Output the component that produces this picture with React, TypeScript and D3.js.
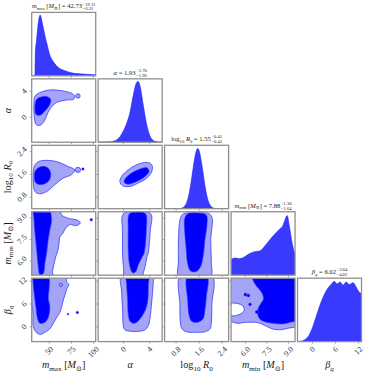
import React, { useEffect, useRef } from 'react';
import * as d3 from 'd3';

// ---------- parameters ----------
const paramRanges: [number, number][] = [[30, 102.5], [-3.85, 5.9], [0.4, 2.62], [5.0, 9.45], [-3.9, 12.8]];
const paramTicks = [[50, 75, 100], [0, 4], [0.8, 1.6, 2.4], [6.0, 7.5, 9.0], [0, 6, 12]];
const paramTickLabels = [['50', '75', '100'], ['0', '4'], ['0.8', '1.6', '2.4'], ['6.0', '7.5', '9.0'], ['0', '6', '12']];
const medians = ['42.73', '1.93', '1.55', '7.88', '6.02'];
const errPlus = ['+19.11', '+1.70', '+0.41', '+1.30', '+3.04'];
const errMinus = ['−6.31', '−1.96', '−0.43', '−1.64', '−4.02'];

type Seg = { t: string; it?: boolean; sub?: boolean };
const labelSegs: Seg[][] = [
  [{ t: 'm', it: true }, { t: 'max', sub: true }, { t: ' [' }, { t: 'M', it: true }, { t: '⊙', sub: true }, { t: ']' }],
  [{ t: 'α', it: true }],
  [{ t: 'log' }, { t: '10', sub: true }, { t: ' ' }, { t: 'R', it: true }, { t: '0', sub: true }],
  [{ t: 'm', it: true }, { t: 'min', sub: true }, { t: ' [' }, { t: 'M', it: true }, { t: '⊙', sub: true }, { t: ']' }],
  [{ t: 'β', it: true }, { t: 'q', it: true, sub: true }],
];

// ---------- 1D marginal histograms (normalised density) ----------
const mmaxHistX = [30, 33.8, 34.1, 35.5, 37, 38.5, 39.5, 40.5, 42, 43.7, 45.5, 47.3, 50.2, 55.2, 60.2, 67.4, 77.5, 91.2, 102.5];
const mmaxHistY = [0, 0, 0.36, 0.56, 0.78, 0.92, 0.96, 0.93, 0.83, 0.72, 0.6, 0.5, 0.34, 0.21, 0.13, 0.08, 0.04, 0.025, 0.015];
const alphaHistX = [-3.85, -2, -1.5, -1, -0.5, 0, 0.5, 1, 1.5, 2, 2.25, 2.5, 3, 3.5, 4, 4.5, 5, 5.9];
const alphaHistY = [0, 0.005, 0.015, 0.04, 0.09, 0.18, 0.3, 0.47, 0.74, 0.94, 0.96, 0.9, 0.6, 0.3, 0.11, 0.03, 0.008, 0];
const logR0HistX = [0.4, 0.9, 1.0, 1.1, 1.2, 1.3, 1.4, 1.5, 1.55, 1.6, 1.7, 1.8, 1.9, 2.0, 2.1, 2.2, 2.62];
const logR0HistY = [0, 0.001, 0.009, 0.042, 0.143, 0.36, 0.67, 0.91, 0.95, 0.91, 0.67, 0.36, 0.143, 0.042, 0.009, 0.001, 0];
const mminHistX = [5.0, 5.25, 5.6, 5.95, 6.3, 6.65, 7.0, 7.35, 7.7, 8.05, 8.4, 8.6, 8.75, 8.9, 9.05, 9.25, 9.45];
const mminHistY = [0.24, 0.27, 0.26, 0.29, 0.34, 0.37, 0.38, 0.46, 0.56, 0.65, 0.73, 0.78, 0.87, 0.94, 0.78, 0.5, 0.32];
const betaqHistX = [-3.9, -3, -2, -1, 0, 1, 2, 3, 4, 5, 5.7, 6.4, 7.2, 8.0, 8.8, 9.6, 10.6, 11.5, 12.2, 12.8];
const betaqHistY = [0, 0.005, 0.03, 0.09, 0.22, 0.4, 0.58, 0.73, 0.84, 0.91, 0.95, 0.91, 0.94, 0.89, 0.94, 0.9, 0.93, 0.85, 0.78, 0.76];

const histX = [mmaxHistX, alphaHistX, logR0HistX, mminHistX, betaqHistX];
const histY = [mmaxHistY, alphaHistY, logR0HistY, mminHistY, betaqHistY];

// ---------- 2D credible contours (data units, [x, y]) ----------
const alphaMmaxOuter = [[33.7, 3.22], [39.3, 3.79], [50.6, 4.19], [65.5, 4.04], [75, 3.69], [78.7, 3.27], [77.6, 2.76], [69.4, 2.65], [58.1, 2.25], [50.6, 1.22], [43, -0.84], [39.3, -1.25], [34.8, -1.1], [32.9, 0.18], [32.6, 2.25]];
const alphaMmaxInner = [[35.6, 2.76], [40.5, 3.1], [46.9, 3.18], [51.4, 2.76], [50.6, 1.99], [45, 0.95], [39.3, 0.29], [34.8, 0.44], [33.7, 1.73]];
const logR0MmaxOuter = [[32.9, 1.88], [36, 2.02], [43, 2.09], [58.1, 2.05], [71.2, 1.88], [78.7, 1.76], [75, 1.59], [65.5, 1.47], [56.2, 1.24], [46.9, 1.0], [38.5, 0.92], [33.7, 1.0], [31.8, 1.3], [31.8, 1.65]];
const logR0MmaxInner = [[34.8, 1.76], [41.2, 1.88], [48.7, 1.82], [51.7, 1.59], [48.7, 1.35], [41.2, 1.24], [34.8, 1.3], [32.9, 1.53]];
const mminMmaxOuter = [[31.5, 9.7], [61.8, 9.7], [63.7, 9.24], [71.2, 9.0], [82.4, 8.84], [85.1, 8.66], [79.8, 8.47], [73.9, 8.56], [68.6, 8.31], [65.5, 7.96], [61.8, 7.68], [61, 7.25], [59.9, 6.78], [57.3, 6.31], [55.1, 5.73], [53.6, 5.26], [53.5, 4.8], [31.5, 4.8]];
const mminMmaxInner = [[32.6, 9.7], [49, 9.7], [52.5, 8.89], [50.6, 8.19], [48.7, 7.49], [46.9, 6.55], [45, 5.85], [43, 5.1], [39.3, 5.03], [37.4, 5.6], [35.6, 6.78], [33.7, 7.96], [32.6, 8.89]];
const betaqMmaxOuter = [[31.5, 13.4], [69.4, 13.4], [69.4, 11.96], [72, 11.1], [70, 10.07], [67.8, 8.52], [65.5, 6.79], [63.7, 5.05], [61.8, 3.76], [58.8, 2.65], [55.1, 1.17], [50.6, -0.54], [45, -1.42], [40.1, -2.01], [35.6, -1.57], [31.8, 0.06], [31.5, 3]];
const betaqMmaxInner = [[32, 13.4], [48.7, 13.4], [49.8, 10.23], [48.7, 7.64], [50.6, 5.05], [48.7, 2.46], [45, 1.17], [39.3, 0.91], [36.7, 2.05], [34.8, 5.05], [32.9, 8.52], [31.8, 11.1]];
const logR0AlphaOuter = [[-0.28, 1.53], [0.73, 1.76], [2.02, 1.94], [3.55, 2.02], [4.32, 1.94], [4.32, 1.7], [3.55, 1.47], [2.26, 1.3], [1.0, 1.18], [-0.12, 1.2], [-0.54, 1.35]];
const logR0AlphaInner = [[0.23, 1.44], [1.25, 1.65], [2.52, 1.79], [3.55, 1.84], [3.9, 1.7], [3.29, 1.53], [2.02, 1.35], [0.73, 1.26], [0.12, 1.32]];
const mminAlphaOuter = [[-0.2, 9.1], [0.2, 9.4], [2.0, 9.44], [3.8, 9.42], [4.3, 9.2], [4.1, 8.18], [3.8, 6.6], [3.55, 6.2], [3.3, 5.6], [3.0, 5.1], [2.9, 4.8], [0.1, 4.8], [0.05, 5.3], [-0.12, 6.3], [-0.15, 8.2]];
const mminAlphaInner = [[0.8, 9.2], [1.2, 9.4], [3.0, 9.42], [3.45, 9.25], [3.5, 8.2], [3.14, 6.53], [2.78, 6.2], [2.26, 5.71], [1.9, 5.25], [1.5, 5.15], [1.2, 5.3], [0.89, 5.83], [0.73, 6.77], [0.73, 8.18]];
const betaqAlphaOuter = [[-0.28, 13.4], [4.56, 13.4], [4.56, 11.96], [4.32, 6.79], [4.06, 2.46], [3.8, 0.32], [3.29, -0.8], [2.52, -1.16], [1.0, -1.16], [0.23, -0.8], [-0.03, 0.32], [-0.12, 4.2], [-0.28, 9.37]];
const betaqAlphaInner = [[0.49, 13.4], [3.8, 13.4], [3.8, 11.1], [3.7, 6.79], [3.29, 4.2], [2.52, 2.05], [2.02, 1.17], [1.5, 0.91], [1.0, 1.43], [0.73, 3.34], [0.64, 6.79], [0.49, 11.1]];
const mminLogR0Outer = [[0.95, 9.0], [1.05, 9.3], [1.5, 9.38], [1.95, 9.3], [2.05, 9.0], [2.0, 7.5], [2.02, 6.0], [1.98, 4.8], [0.9, 4.8], [0.88, 6.0], [0.88, 7.5]];
const mminLogR0Inner = [[1.1, 9.0], [1.2, 9.3], [1.6, 9.36], [1.85, 9.2], [1.87, 8.5], [1.8, 7.5], [1.75, 6.5], [1.65, 5.6], [1.5, 5.25], [1.3, 5.3], [1.2, 5.8], [1.15, 6.8], [1.1, 8.0]];
const betaqLogR0Outer = [[0.95, 13.4], [2.05, 13.4], [2.04, 6], [2.02, 1.0], [1.98, -0.5], [1.8, -1.3], [1.5, -1.45], [1.15, -1.3], [1.0, -0.5], [0.95, 1.0], [0.93, 6]];
const betaqLogR0Inner = [[1.2, 13.4], [1.87, 13.4], [1.85, 8], [1.8, 4.5], [1.74, 2.2], [1.6, 1.3], [1.45, 1.15], [1.33, 1.5], [1.25, 3.0], [1.2, 7]];
const betaqMminOuter = [[4.9, 13.4], [9.6, 13.4], [9.6, -0.12], [9.45, -0.12], [8.96, -0.38], [8.41, -0.8], [7.85, -0.54], [7.36, 0.32], [6.88, 1.09], [5.97, 1.17], [5.49, 0.91], [5.0, 1.35], [4.9, 1.35], [4.9, 2.78], [5.28, 2.9], [5.63, 3.34], [5.9, 4.2], [5.83, 5.49], [5.49, 6.09], [5.0, 6.27], [4.9, 6.27]];
const betaqMminInner = [[6.5, 13.4], [9.6, 13.4], [9.6, 1.8], [9.1, 1.17], [8.64, 0.76], [7.94, 0.91], [7.16, 1.61], [6.9, 2.65], [6.88, 4.72], [7.05, 6.01], [7.25, 7.3], [7.16, 8.86], [6.88, 10.23], [6.6, 11.7]];

// small isolated contour islands: [row, col, x, y]
const lightIslands = [[1, 0, 82.4, 3.27], [2, 0, 82.4, 1.76], [4, 0, 63, 11.0]];
const darkIslands = [[2, 0, 88, 1.79], [3, 0, 97.5, 8.89], [4, 0, 71.2, 3.34], [4, 0, 81.7, 3.76], [4, 3, 6.0, 8.5], [4, 3, 6.2, 8.25], [4, 3, 6.32, 5.9], [4, 3, 6.8, 3.9]];
const islandSizes = [2.2, 2.6, 1.6];
const dotSizes = [1.2, 1.3, 0.9, 1.2, 1.6, 1.5, 1.4, 1.7];

// ---------- layout ----------
const PL = 31.7, PT = 12.4, STEP = 66.45, PW = 64, PH = 63.4;
const FONT = "'Liberation Serif', 'DejaVu Serif', serif";
const LIGHT = '#a3a3f8';
const DARK = '#0000ff';
const EDGE = '#3a3aff';
const HIST = '#3a3aff';
const SPINE = '#8f8f8f';

export default function App() {
  const ref = useRef<SVGSVGElement>(null);

  useEffect(() => {
    const svg = d3.select(ref.current as SVGSVGElement);
    svg.selectAll('*').remove();
    const n = 5;
    const colX = (i: number) => PL + i * STEP;
    const rowY = (j: number) => PT + j * STEP;
    const xs = paramRanges.map((r, i) => d3.scaleLinear().domain(r).range([colX(i), colX(i) + PW]));
    const ys = paramRanges.map((r, j) => d3.scaleLinear().domain(r).range([rowY(j) + PH, rowY(j)]));

    const defs = svg.append('defs');
    for (let j = 0; j < n; j++) for (let i = 0; i <= j; i++) {
      defs.append('clipPath').attr('id', `clip-${j}-${i}`).append('rect')
        .attr('x', colX(i)).attr('y', rowY(j)).attr('width', PW).attr('height', PH);
    }

    const richText = (parent: any, segs: Seg[], fs: number) => {
      const text = parent.append('text').attr('font-family', FONT).attr('font-size', fs).attr('fill', '#1a1a1a');
      let shifted = false;
      segs.forEach((s) => {
        const ts = text.append('tspan').text(s.t).attr('font-style', s.it ? 'italic' : 'normal');
        if (s.sub) {
          ts.attr('font-size', fs * 0.7);
          if (!shifted) { ts.attr('dy', fs * 0.25); shifted = true; }
        } else if (shifted) {
          ts.attr('dy', -fs * 0.25); shifted = false;
        }
      });
      return text;
    };

    // ---- diagonal histograms ----
    for (let i = 0; i < n; i++) {
      const hy = d3.scaleLinear().domain([0, 1]).range([rowY(i) + PH, rowY(i)]);
      const pts = histX[i].map((x, k) => [x, histY[i][k]] as [number, number]);
      const area = d3.area<[number, number]>()
        .x((d) => xs[i](d[0])).y0(rowY(i) + PH).y1((d) => hy(d[1])).curve(d3.curveMonotoneX);
      svg.append('g').attr('clip-path', `url(#clip-${i}-${i})`)
        .append('path').attr('d', area(pts) as string)
        .attr('fill', HIST).attr('stroke', '#1f1fff').attr('stroke-width', 0.6);
    }

    // ---- 2D contours ----
    const contourTable = [
      { row: 1, col: 0, outer: alphaMmaxOuter, inner: alphaMmaxInner },
      { row: 2, col: 0, outer: logR0MmaxOuter, inner: logR0MmaxInner },
      { row: 3, col: 0, outer: mminMmaxOuter, inner: mminMmaxInner },
      { row: 4, col: 0, outer: betaqMmaxOuter, inner: betaqMmaxInner },
      { row: 2, col: 1, outer: logR0AlphaOuter, inner: logR0AlphaInner },
      { row: 3, col: 1, outer: mminAlphaOuter, inner: mminAlphaInner },
      { row: 4, col: 1, outer: betaqAlphaOuter, inner: betaqAlphaInner },
      { row: 3, col: 2, outer: mminLogR0Outer, inner: mminLogR0Inner },
      { row: 4, col: 2, outer: betaqLogR0Outer, inner: betaqLogR0Inner },
      { row: 4, col: 3, outer: betaqMminOuter, inner: betaqMminInner },
    ];
    contourTable.forEach(({ row, col, outer, inner }) => {
      const line = d3.line<number[]>().x((d) => xs[col](d[0])).y((d) => ys[row](d[1]))
        .curve(d3.curveCatmullRomClosed.alpha(0.5));
      const g = svg.append('g').attr('clip-path', `url(#clip-${row}-${col})`);
      g.append('path').attr('d', line(outer) as string).attr('fill', LIGHT).attr('stroke', EDGE).attr('stroke-width', 0.8);
      lightIslands.forEach((d, k) => {
        if (d[0] === row && d[1] === col) {
          g.append('circle').attr('cx', xs[col](d[2])).attr('cy', ys[row](d[3])).attr('r', islandSizes[k])
            .attr('fill', LIGHT).attr('stroke', EDGE).attr('stroke-width', 0.8);
        }
      });
      g.append('path').attr('d', line(inner) as string).attr('fill', DARK).attr('stroke', EDGE).attr('stroke-width', 0.6);
      darkIslands.forEach((d, k) => {
        if (d[0] === row && d[1] === col) {
          g.append('circle').attr('cx', xs[col](d[2])).attr('cy', ys[row](d[3])).attr('r', dotSizes[k])
            .attr('fill', DARK).attr('stroke', EDGE).attr('stroke-width', 0.5);
        }
      });
    });

    // ---- frames and ticks ----
    for (let j = 0; j < n; j++) for (let i = 0; i <= j; i++) {
      const x0 = colX(i), y0 = rowY(j);
      svg.append('rect').attr('x', x0).attr('y', y0).attr('width', PW).attr('height', PH)
        .attr('fill', 'none').attr('stroke', SPINE).attr('stroke-width', 1.3);
      paramTicks[i].forEach((v) => {
        const x = xs[i](v);
        svg.append('line').attr('x1', x).attr('x2', x).attr('y1', y0 + PH).attr('y2', y0 + PH + 2)
          .attr('stroke', SPINE).attr('stroke-width', 0.8);
      });
      if (i !== j) {
        paramTicks[j].forEach((v) => {
          const y = ys[j](v);
          svg.append('line').attr('x1', x0 - 2).attr('x2', x0).attr('y1', y).attr('y2', y)
            .attr('stroke', SPINE).attr('stroke-width', 0.8);
        });
      }
    }

    // ---- tick labels ----
    const tfs = 8;
    const bottom = rowY(4) + PH;
    for (let i = 0; i < n; i++) {
      paramTicks[i].forEach((v, k) => {
        const t = svg.append('text').attr('font-family', FONT).attr('font-size', tfs).attr('fill', '#333')
          .attr('text-anchor', 'middle').attr('dominant-baseline', 'central').text(paramTickLabels[i][k]);
        const w = (t.node() as SVGTextElement).getComputedTextLength();
        const b = (w + tfs * 0.72) / Math.SQRT2;
        t.attr('transform', `translate(${xs[i](v)},${bottom + 4.2 + b / 2}) rotate(-45)`);
      });
    }
    for (let j = 1; j < n; j++) {
      paramTicks[j].forEach((v, k) => {
        const t = svg.append('text').attr('font-family', FONT).attr('font-size', tfs).attr('fill', '#333')
          .attr('text-anchor', 'middle').attr('dominant-baseline', 'central').text(paramTickLabels[j][k]);
        const w = (t.node() as SVGTextElement).getComputedTextLength();
        const b = (w + tfs * 0.72) / Math.SQRT2;
        t.attr('transform', `translate(${PL - 4.2 - b / 2},${ys[j](v)}) rotate(-45)`);
      });
    }

    // ---- axis labels ----
    const lfs = 10.2;
    for (let i = 0; i < n; i++) {
      const t = richText(svg, labelSegs[i], lfs).attr('text-anchor', 'middle');
      t.attr('x', colX(i) + PW / 2).attr('y', 368);
    }
    for (let j = 1; j < n; j++) {
      const g = svg.append('g').attr('transform', `translate(10.8,${rowY(j) + PH / 2}) rotate(-90)`);
      richText(g, labelSegs[j], lfs).attr('text-anchor', 'middle');
    }

    // ---- titles ----
    const ttfs = 6.6;
    for (let i = 0; i < n; i++) {
      const g = svg.append('g');
      const main = richText(g, [...labelSegs[i], { t: ' = ' + medians[i] }], ttfs);
      const w = (main.node() as SVGTextElement).getComputedTextLength();
      const sup = g.append('text').attr('font-family', FONT).attr('font-size', 4.6).attr('fill', '#1a1a1a')
        .attr('x', w + 0.6).attr('y', -2.7).text(errPlus[i]);
      const sub = g.append('text').attr('font-family', FONT).attr('font-size', 4.6).attr('fill', '#1a1a1a')
        .attr('x', w + 0.6).attr('y', 2.0).text(errMinus[i]);
      const sw = Math.max((sup.node() as SVGTextElement).getComputedTextLength(), (sub.node() as SVGTextElement).getComputedTextLength());
      const total = w + 0.6 + sw;
      g.attr('transform', `translate(${colX(i) + PW / 2 - total / 2},${rowY(i) - 4.2})`);
    }
  }, []);

  return (
    <svg ref={ref} width={374} height={374}
      style={{ position: 'absolute', left: 0, top: 0, background: '#fff', display: 'block' }} />
  );
}
